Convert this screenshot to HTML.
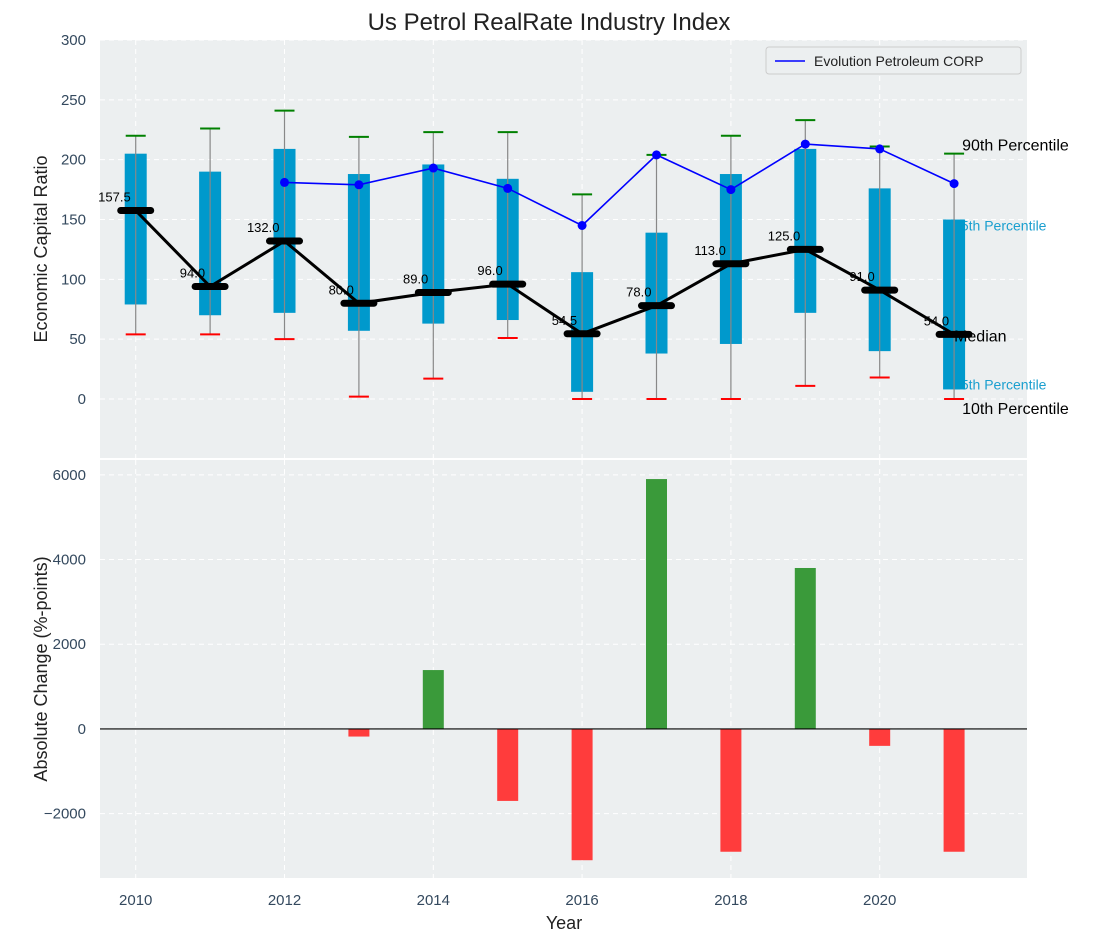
<!DOCTYPE html>
<html><head><meta charset="utf-8"><style>
body{margin:0;background:#fff;}
svg{display:block;font-family:"Liberation Sans","DejaVu Sans",sans-serif;}
</style></head><body>
<svg id="chart" width="1098" height="942" viewBox="0 0 1098 942"></svg>
<script>
const years=[2010,2011,2012,2013,2014,2015,2016,2017,2018,2019,2020,2021];
const q1=[79,70,72,57,63,66,6,38,46,72,40,8];
const q3=[205,190,209,188,196,184,106,139,188,209,176,150];
const p10=[54,54,50,2,17,51,0,0,0,11,18,0];
const p90=[220,226,241,219,223,223,171,204,220,233,211,205];
const medians=[157.5,94,132,80,89,96,54.5,78,113,125,91,54];
const companyYears=[2012,2013,2014,2015,2016,2017,2018,2019,2020,2021];
const companyValues=[181,179,193,176,145,204,175,213,209,180];
const changes=[0,0,0,-180,1390,-1700,-3100,5900,-2900,3800,-400,-2900];
const yTicksTop=[0,50,100,150,200,250,300];
const yTicksBot=[-2000,0,2000,4000,6000];
const xTicks=[2010,2012,2014,2016,2018,2020];

const NS="http://www.w3.org/2000/svg";
const svg=document.getElementById('chart');
function el(tag,attrs,parent,text){const e=document.createElementNS(NS,tag);for(const k in attrs)e.setAttribute(k,attrs[k]);if(text!==undefined)e.textContent=text;(parent||svg).appendChild(e);return e;}
const L=100,R=1027;
const x=v=>L+(v-2009.52)/(2021.98-2009.52)*(R-L);
const T0=40,T1=458,yT=v=>T0+(300-v)/(300-(-49.3))*(T1-T0);
const B0=460,B1=878,yB=v=>B0+(6350-v)/(6350-(-3520))*(B1-B0);
const tickColor="#34495e";

el('text',{x:549,y:30,'text-anchor':'middle','font-size':24,fill:'#222',},svg,'Us Petrol RealRate Industry Index');

let g=el('g',{});
el('rect',{x:L,y:T0,width:R-L,height:T1-T0,fill:'#eceff0',},g);
xTicks.forEach(t=>{const l=el('line',{x1:x(t),x2:x(t),y1:T0,y2:T1,stroke:'#fff','stroke-dasharray':'5,4','stroke-width':1},g);});
yTicksTop.forEach(t=>{const l=el('line',{x1:L,x2:R,y1:yT(t),y2:yT(t),stroke:'#fff','stroke-dasharray':'5,4','stroke-width':1},g);
const tx=el('text',{x:L-14,y:yT(t)+5,'text-anchor':'end','font-size':15,fill:tickColor},svg,String(t));});
const last=years.length-1;
el('text',{x:x(years[last])-1,y:yT(q3[last])+11,'font-size':14,fill:'#1a9fcf',},g,'75th Percentile');
el('text',{x:x(years[last])-1,y:yT(q1[last]),'font-size':14,fill:'#1a9fcf',},g,'25th Percentile');
years.forEach((yr,i)=>{
 const cx=x(yr);
 const b=el('rect',{x:cx-11,y:yT(q3[i]),width:22,height:yT(q1[i])-yT(q3[i]),fill:'#0099cc'},g);
 
 const w=el('line',{x1:cx,x2:cx,y1:yT(p90[i]),y2:yT(p10[i]),stroke:'#888','stroke-width':1.2},g);
 
 const c1=el('line',{x1:cx-10,x2:cx+10,y1:yT(p90[i]),y2:yT(p90[i]),stroke:'green','stroke-width':2},g);
 
 const c2=el('line',{x1:cx-10,x2:cx+10,y1:yT(p10[i]),y2:yT(p10[i]),stroke:'red','stroke-width':2},g);
 
});
const mp=el('polyline',{points:years.map((yr,i)=>x(yr)+','+yT(medians[i])).join(' '),fill:'none',stroke:'#000','stroke-width':3},g);

years.forEach((yr,i)=>{
 const cx=x(yr),cy=yT(medians[i]);
 const m=el('line',{x1:cx-15,x2:cx+15,y1:cy,y2:cy,stroke:'#000','stroke-width':7,'stroke-linecap':'round'},g);
 
 const t=el('text',{x:cx-5,y:cy-9,'text-anchor':'end','font-size':13,fill:'#000'},g,medians[i].toFixed(1));
 
});
const cp=el('polyline',{points:companyYears.map((yr,i)=>x(yr)+','+yT(companyValues[i])).join(' '),fill:'none',stroke:'#0000ff','stroke-width':1.6},g);

companyYears.forEach((yr,i)=>{const c=el('circle',{cx:x(yr),cy:yT(companyValues[i]),r:4.5,fill:'#0000ff'},g);});
el('text',{x:x(years[last])+8,y:yT(p90[last])-3,'font-size':16,fill:'#000',},svg,'90th Percentile');
el('text',{x:x(years[last]),y:yT(medians[last])+7,'font-size':16,fill:'#000',},svg,'Median');
el('text',{x:x(years[last])+8,y:yT(p10[last])+15,'font-size':16,fill:'#000',},svg,'10th Percentile');
let lg=el('g',{});
el('rect',{x:766,y:47,width:255,height:27,rx:3,fill:'#eceff0',stroke:'#ccc',},lg);
el('line',{x1:775,x2:805,y1:61,y2:61,stroke:'#0000ff','stroke-width':1.6,},lg);
el('text',{x:814,y:66,'font-size':14,fill:'#222',},lg,'Evolution Petroleum CORP');
el('text',{x:47,y:249,'font-size':18,fill:'#222','text-anchor':'middle',transform:'rotate(-90 47 249)',},svg,'Economic Capital Ratio');

let gb=el('g',{});
el('rect',{x:L,y:B0,width:R-L,height:B1-B0,fill:'#eceff0',},gb);
xTicks.forEach(t=>{const l=el('line',{x1:x(t),x2:x(t),y1:B0,y2:B1,stroke:'#fff','stroke-dasharray':'5,4'},gb);
const tx=el('text',{x:x(t),y:905,'text-anchor':'middle','font-size':15,fill:tickColor},svg,String(t));});
yTicksBot.forEach(t=>{const l=el('line',{x1:L,x2:R,y1:yB(t),y2:yB(t),stroke:'#fff','stroke-dasharray':'5,4'},gb);
const tx=el('text',{x:L-14,y:yB(t)+5,'text-anchor':'end','font-size':15,fill:tickColor},svg,(t<0?'\u2212':'')+Math.abs(t));});
years.forEach((yr,i)=>{
 const v=changes[i];if(v===0)return;
 const y0=yB(Math.max(v,0)),y1=yB(Math.min(v,0));
 const r=el('rect',{x:x(yr)-10.5,y:y0,width:21,height:y1-y0,fill:v>0?'#3a9a3a':'#ff3c3c'},gb);
 
});
el('line',{x1:L,x2:R,y1:yB(0),y2:yB(0),stroke:'#000','stroke-width':1.2,},gb);
el('text',{x:47,y:669,'font-size':18,fill:'#222','text-anchor':'middle',transform:'rotate(-90 47 669)',},svg,'Absolute Change (%-points)');
el('text',{x:564,y:929,'font-size':18,fill:'#222','text-anchor':'middle',},svg,'Year');
</script>
</body></html>
